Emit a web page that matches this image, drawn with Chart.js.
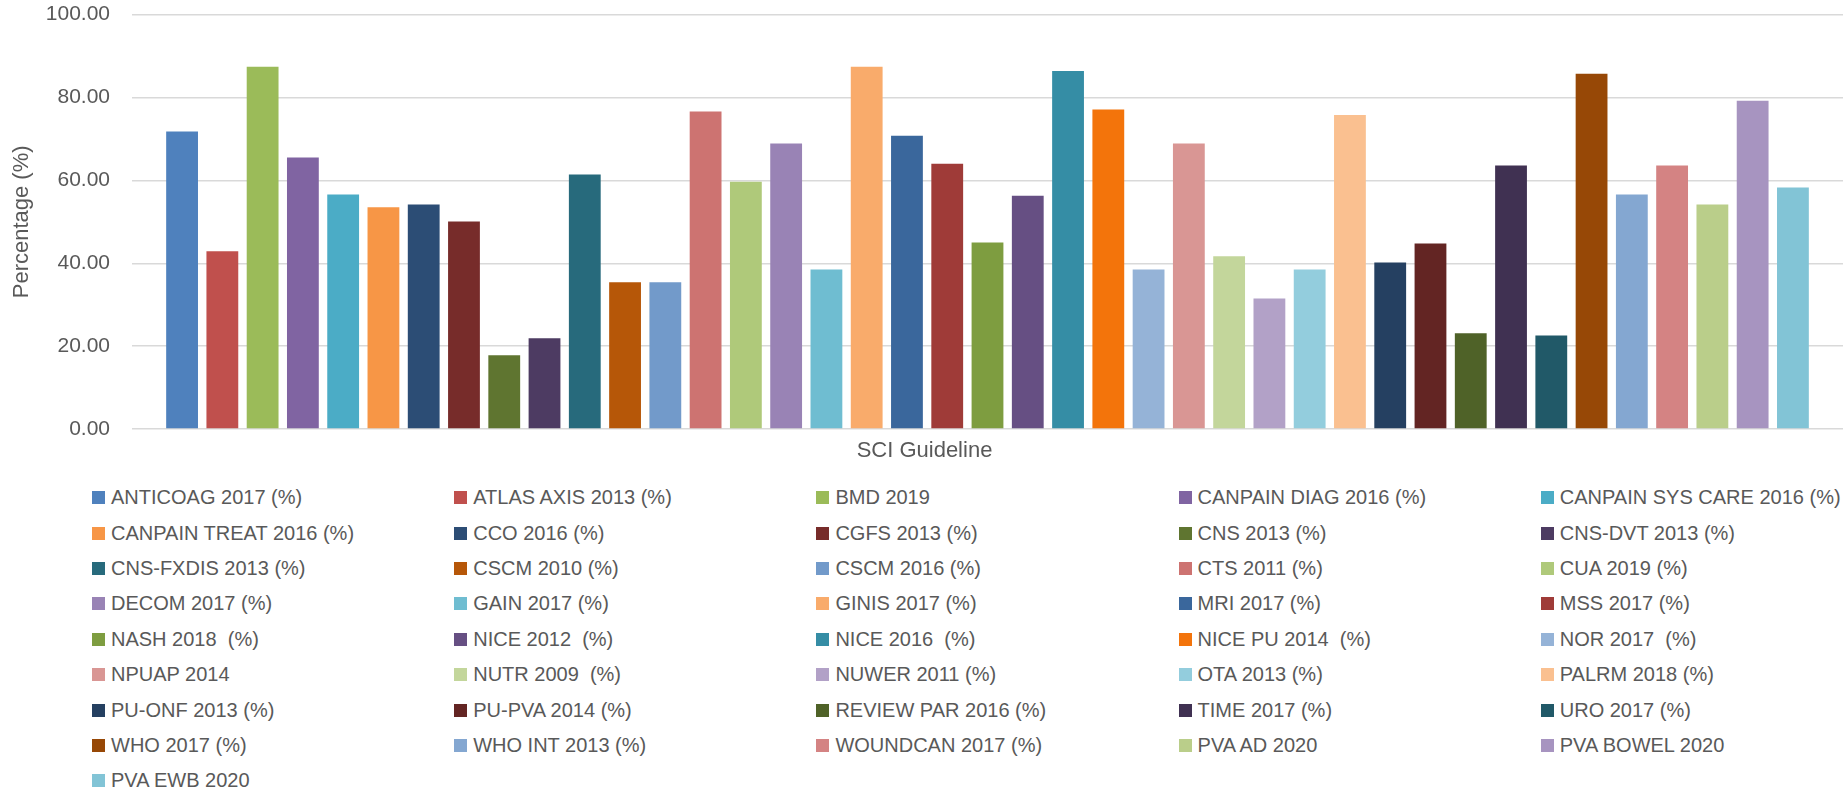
<!DOCTYPE html>
<html>
<head>
<meta charset="utf-8">
<title>SCI Guideline</title>
<script src="https://cdn.jsdelivr.net/npm/chart.js@4.4.1/dist/chart.umd.min.js"></script>
<style>
    html, body { margin: 0; padding: 0; background: #fff; }
    body { width: 1847px; height: 788px; position: relative; overflow: hidden; font-family: "Liberation Sans", Arial, sans-serif; }
    #chartBox { position: absolute; left: 0; top: 0; width: 1847px; height: 474px; }
    #legend { position: absolute; left: 92px; top: 480px; display: grid; grid-template-columns: repeat(5, 362.2px); grid-auto-rows: 35.4px; }
    .item { display: flex; align-items: center; font-size: 20px; color: #595959; white-space: pre; }
    .swatch { width: 13px; height: 13px; margin-right: 6px; flex: none; }
</style>
</head>
<body>
<div id="chartBox"><canvas id="sciChart"></canvas></div>
<div id="legend"></div>
<script>
const guidelines = [
    'ANTICOAG 2017 (%)', 'ATLAS AXIS 2013 (%)', 'BMD 2019', 'CANPAIN DIAG 2016 (%)', 'CANPAIN SYS CARE 2016 (%)',
    'CANPAIN TREAT 2016 (%)', 'CCO 2016 (%)', 'CGFS 2013 (%)', 'CNS 2013 (%)', 'CNS-DVT 2013 (%)',
    'CNS-FXDIS 2013 (%)', 'CSCM 2010 (%)', 'CSCM 2016 (%)', 'CTS 2011 (%)', 'CUA 2019 (%)',
    'DECOM 2017 (%)', 'GAIN 2017 (%)', 'GINIS 2017 (%)', 'MRI 2017 (%)', 'MSS 2017 (%)',
    'NASH 2018  (%)', 'NICE 2012  (%)', 'NICE 2016  (%)', 'NICE PU 2014  (%)', 'NOR 2017  (%)',
    'NPUAP 2014', 'NUTR 2009  (%)', 'NUWER 2011 (%)', 'OTA 2013 (%)', 'PALRM 2018 (%)',
    'PU-ONF 2013 (%)', 'PU-PVA 2014 (%)', 'REVIEW PAR 2016 (%)', 'TIME 2017 (%)', 'URO 2017 (%)',
    'WHO 2017 (%)', 'WHO INT 2013 (%)', 'WOUNDCAN 2017 (%)', 'PVA AD 2020', 'PVA BOWEL 2020',
    'PVA EWB 2020'
];

const percentages = [
    71.8, 42.9, 87.4, 65.5, 56.6,
    53.5, 54.2, 50.1, 17.8, 21.9,
    61.4, 35.4, 35.4, 76.6, 59.7,
    68.9, 38.5, 87.4, 70.8, 64.0,
    45.0, 56.3, 86.4, 77.1, 38.5,
    68.9, 41.7, 31.5, 38.5, 75.8,
    40.2, 44.8, 23.1, 63.6, 22.6,
    85.7, 56.6, 63.6, 54.2, 79.2,
    58.3
];

const barColors = [
    '#4F81BD', '#C0504D', '#9BBB59', '#8064A2', '#4BACC6',
    '#F79646', '#2C4D75', '#772C2A', '#5F7530', '#4D3B62',
    '#276A7C', '#B65708', '#729ACA', '#CD7371', '#AFC97A',
    '#9983B5', '#6FBDD1', '#F9AB6B', '#3A679C', '#9F3B38',
    '#7E9D40', '#664F83', '#358DA5', '#F3740B', '#95B3D7',
    '#D99694', '#C3D69B', '#B2A1C7', '#93CDDD', '#FAC090',
    '#254061', '#632523', '#4F6228', '#403152', '#215968',
    '#974806', '#84A7D1', '#D48383', '#BACE8A', '#A794C0',
    '#82C4D6'
];

const yMin = 0;
const yMax = 100;
const yStep = 20;

document.addEventListener('DOMContentLoaded', function() {
    Chart.defaults.font.family = '"Liberation Sans", Arial, sans-serif';
    const ctx = document.getElementById('sciChart').getContext('2d');

    const chart = new Chart(ctx, {
        type: 'bar',
        data: {
            labels: [''],
            datasets: guidelines.map((name, i) => ({
                label: name,
                data: [percentages[i]],
                backgroundColor: barColors[i],
                borderWidth: 0
            }))
        },
        options: {
            responsive: true,
            maintainAspectRatio: false,
            animation: false,
            datasets: {
                bar: { categoryPercentage: 0.965, barPercentage: 0.79 }
            },
            layout: {
                padding: { left: 6, right: 4, top: 0, bottom: 0 }
            },
            scales: {
                x: { display: false },
                y: {
                    min: yMin,
                    max: yMax,
                    afterFit: (scale) => { scale.width = 126; },
                    ticks: {
                        stepSize: yStep,
                        padding: 2,
                        color: '#595959',
                        font: { size: 21 },
                        callback: (value) => value.toFixed(2)
                    },
                    grid: {
                        color: '#D9D9D9',
                        lineWidth: 1.5,
                        drawTicks: true,
                        tickLength: 20,
                        tickColor: 'rgba(0,0,0,0)'
                    },
                    border: { display: false },
                    title: {
                        display: true,
                        text: 'Percentage (%)',
                        color: '#595959',
                        font: { size: 22 },
                        padding: { top: 3, bottom: 4 }
                    }
                }
            },
            plugins: {
                legend: { display: false },
                tooltip: { enabled: false },
                title: {
                    display: true,
                    position: 'bottom',
                    text: 'SCI Guideline',
                    color: '#595959',
                    font: { size: 22, weight: 'normal' },
                    padding: { top: 8.5, bottom: 10 }
                }
            }
        }
    });

    // legend laid out in 5 fixed columns like the original
    const legendBox = document.getElementById('legend');
    chart.data.datasets.forEach(ds => {
        const item = document.createElement('div');
        item.className = 'item';
        const swatch = document.createElement('span');
        swatch.className = 'swatch';
        swatch.style.background = ds.backgroundColor;
        const text = document.createElement('span');
        text.textContent = ds.label;
        item.appendChild(swatch);
        item.appendChild(text);
        legendBox.appendChild(item);
    });
});
</script>
</body>
</html>
